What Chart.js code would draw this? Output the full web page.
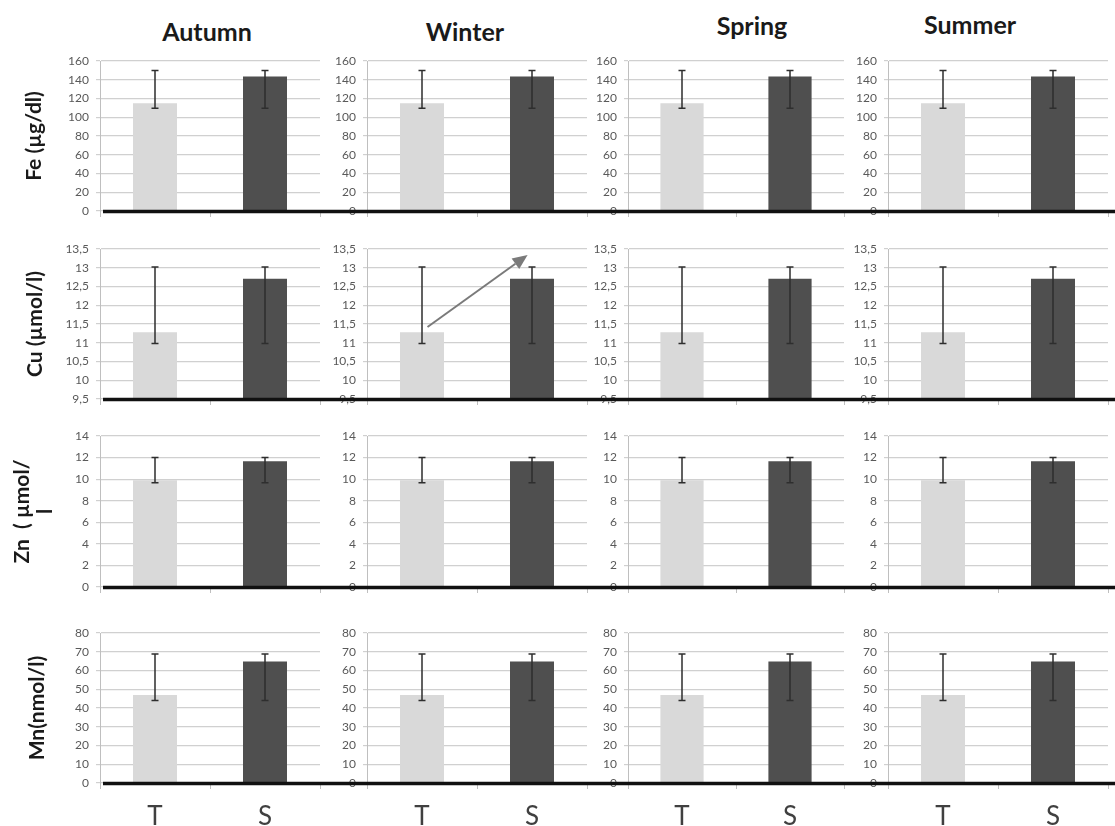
<!DOCTYPE html>
<html>
<head>
<meta charset="utf-8">
<script src="https://cdn.jsdelivr.net/npm/chart.js@4.4.1/dist/chart.umd.min.js"></script>
<style>
  body { margin: 0; background: #fff; width: 1115px; height: 826px; position: relative; overflow: hidden; font-family: Lato, sans-serif; }
  .cell { position: absolute; }
  .season { position: absolute; font: 700 25px Lato, sans-serif; color: #1a1a1a; transform: translate(-50%, -50%); white-space: nowrap; }
</style>
</head>
<body>
<script>
// data
const seasons = ['Autumn', 'Winter', 'Spring', 'Summer'];
const categories = ['T', 'S'];
const rowTitles = [['Fe (µg/dl)'], ['Cu (µmol/l)'], ['Zn  ( µmol/', 'l'], ['Mn(nmol/l)']];

const feMean = [115, 143.5];
const feLow = [109.5, 109.5];
const feHigh = [150, 150];

const cuMean = [11.28, 12.71];
const cuLow = [10.98, 10.98];
const cuHigh = [13.02, 13.02];

const znMean = [9.9, 11.65];
const znLow = [9.66, 9.66];
const znHigh = [12.0, 12.0];

const mnMean = [47, 64.8];
const mnLow = [44, 44];
const mnHigh = [68.8, 68.8];

const yMin = [0, 9.5, 0, 0];
const yMax = [160, 13.5, 14, 80];
const yStep = [20, 0.5, 2, 10];

// arrow in the Winter / Cu panel, in data units (category index, value)
const arrowFrom = [0.05, 11.42];
const arrowTo = [0.96, 13.34];

const means = [feMean, cuMean, znMean, mnMean];
const lows = [feLow, cuLow, znLow, mnLow];
const highs = [feHigh, cuHigh, znHigh, mnHigh];

// layout
const cols = [
  { left: 0, width: 330, axis: 100, right: 320 },
  { left: 330, width: 260, axis: 367, right: 587 },
  { left: 590, width: 260, axis: 628, right: 844 },
  { left: 850, width: 265, axis: 888, right: 1108 }
];
const rows = [
  { top: 40, height: 190, plotTop: 61, plotBottom: 211, xh: 8, titlePad: 23 },
  { top: 230, height: 190, plotTop: 249, plotBottom: 399, xh: 8, titlePad: 24 },
  { top: 420, height: 190, plotTop: 436, plotBottom: 587, xh: 8, titlePad: 11 },
  { top: 612, height: 214, plotTop: 633, plotBottom: 783, xh: 42, titlePad: 26 }
];
const seasonPos = [[207, 31], [465, 31], [752, 25], [970, 24]];

seasons.forEach((s, i) => {
  const d = document.createElement('div');
  d.className = 'season';
  d.textContent = s;
  d.style.left = seasonPos[i][0] + 'px';
  d.style.top = seasonPos[i][1] + 'px';
  document.body.appendChild(d);
});

const errorBars = {
  id: 'errorBars',
  afterDatasetsDraw(chart) {
    const ctx = chart.ctx;
    const ds = chart.data.datasets[0];
    const meta = chart.getDatasetMeta(0);
    const y = chart.scales.y;
    ctx.save();
    ctx.strokeStyle = '#2e2e2e';
    ctx.lineWidth = 1.5;
    meta.data.forEach((bar, i) => {
      const yl = y.getPixelForValue(ds.errLow[i]);
      const yh = y.getPixelForValue(ds.errHigh[i]);
      ctx.beginPath();
      ctx.moveTo(bar.x, yl); ctx.lineTo(bar.x, yh);
      ctx.moveTo(bar.x - 3.5, yl); ctx.lineTo(bar.x + 3.5, yl);
      ctx.moveTo(bar.x - 3.5, yh); ctx.lineTo(bar.x + 3.5, yh);
      ctx.stroke();
    });
    ctx.restore();
  }
};

const baseline = {
  id: 'baseline',
  afterDraw(chart, args, opts) {
    const { ctx, chartArea } = chart;
    const x0 = opts.fromAxis ? chartArea.left + 3 : 0;
    ctx.save();
    ctx.strokeStyle = '#111';
    ctx.lineWidth = 3.5;
    ctx.beginPath();
    ctx.moveTo(x0, chartArea.bottom + 0.5);
    ctx.lineTo(chart.width, chartArea.bottom + 0.5);
    ctx.stroke();
    ctx.restore();
  }
};

const arrow = {
  id: 'arrow',
  afterDraw(chart, args, opts) {
    if (!opts.show) return;
    const { ctx, scales: { x, y } } = chart;
    const px = v => x.getPixelForValue(0) + v * (x.getPixelForValue(1) - x.getPixelForValue(0));
    const x1 = px(arrowFrom[0]), y1 = y.getPixelForValue(arrowFrom[1]);
    const x2 = px(arrowTo[0]), y2 = y.getPixelForValue(arrowTo[1]);
    const a = Math.atan2(y2 - y1, x2 - x1);
    const len = 15, half = 6.5;
    const bx = x2 - len * Math.cos(a), by = y2 - len * Math.sin(a);
    ctx.save();
    ctx.strokeStyle = '#7a7a7a';
    ctx.fillStyle = '#7a7a7a';
    ctx.lineWidth = 2;
    ctx.beginPath();
    ctx.moveTo(x1, y1); ctx.lineTo(bx, by);
    ctx.stroke();
    ctx.beginPath();
    ctx.moveTo(x2, y2);
    ctx.lineTo(bx + half * Math.sin(a), by - half * Math.cos(a));
    ctx.lineTo(bx - half * Math.sin(a), by + half * Math.cos(a));
    ctx.closePath();
    ctx.fill();
    ctx.restore();
  }
};

rows.forEach((row, r) => {
  cols.forEach((col, c) => {
    const div = document.createElement('div');
    div.className = 'cell';
    div.style.left = col.left + 'px';
    div.style.top = row.top + 'px';
    const canvas = document.createElement('canvas');
    canvas.width = col.width;
    canvas.height = row.height;
    div.appendChild(canvas);
    document.body.appendChild(div);

    new Chart(canvas, {
      type: 'bar',
      data: {
        labels: categories,
        datasets: [{
          data: means[r],
          errLow: lows[r],
          errHigh: highs[r],
          backgroundColor: ['#d9d9d9', '#4f4f4f'],
          borderWidth: 0,
          barPercentage: 0.5,
          categoryPercentage: 0.8
        }]
      },
      options: {
        responsive: false,
        animation: false,
        events: [],
        layout: {
          padding: {
            left: 0,
            top: row.plotTop - row.top,
            right: col.left + col.width - col.right,
            bottom: row.top + row.height - row.plotBottom - row.xh
          }
        },
        plugins: {
          legend: { display: false },
          tooltip: { enabled: false },
          baseline: { fromAxis: c === 0 },
          arrow: { show: r === 1 && c === 1 }
        },
        scales: {
          x: {
            grid: { drawOnChartArea: false, tickLength: 6, color: '#bfbfbf' },
            border: { display: false },
            ticks: {
              display: r === 3,
              color: '#404040',
              font: { family: 'Lato', size: 26 },
              padding: 12
            },
            afterFit: s => { s.height = row.xh; }
          },
          y: {
            min: yMin[r],
            max: yMax[r],
            ticks: {
              stepSize: yStep[r],
              color: '#595959',
              font: { family: 'Lato', size: 12 },
              padding: 7,
              callback: v => String(v).replace('.', ',')
            },
            grid: { color: '#d0d0d0', lineWidth: 1.2, tickLength: 4 },
            border: { color: '#bfbfbf', width: 1 },
            title: {
              display: c === 0,
              text: rowTitles[r],
              color: '#1a1a1a',
              font: { family: 'Lato', size: 21, weight: 'bold', lineHeight: 1.1 },
              padding: { top: row.titlePad, bottom: 0 }
            },
            afterFit: s => { s.width = col.axis - col.left; }
          }
        }
      },
      plugins: [errorBars, baseline, arrow]
    });
  });
});
</script>
</body>
</html>
